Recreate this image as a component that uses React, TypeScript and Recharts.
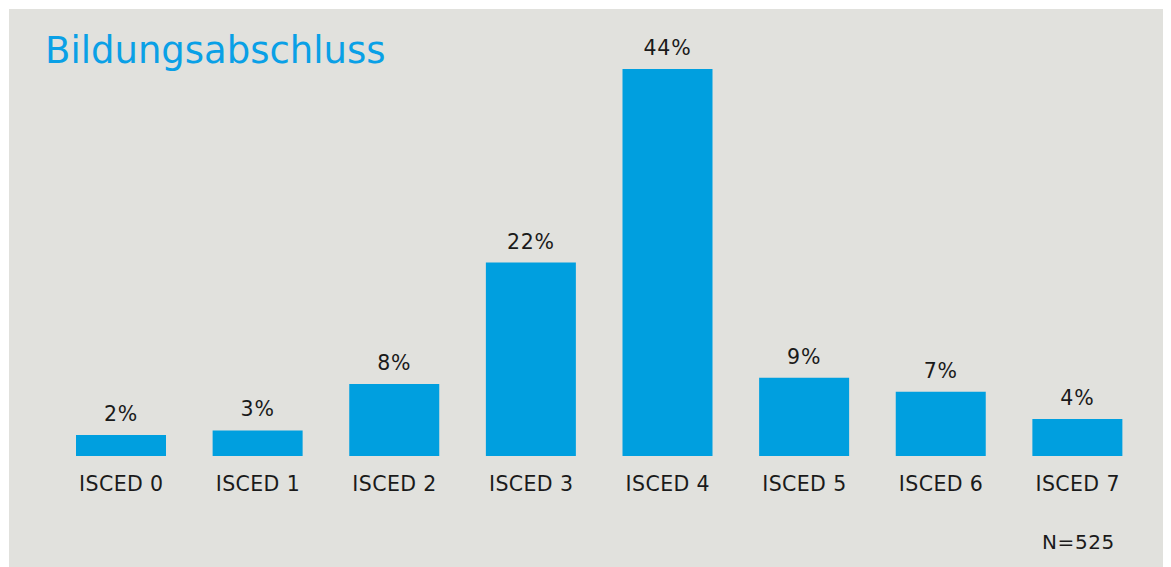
import { BarChart, Bar, XAxis, YAxis, LabelList } from "recharts";

const categories = [
  "ISCED 0",
  "ISCED 1",
  "ISCED 2",
  "ISCED 3",
  "ISCED 4",
  "ISCED 5",
  "ISCED 6",
  "ISCED 7",
];
const shares = [2.4, 2.9, 8.2, 22, 44, 8.9, 7.3, 4.2];
const shareLabels = ["2%", "3%", "8%", "22%", "44%", "9%", "7%", "4%"];

const data = categories.map((name, i) => ({
  name,
  value: shares[i],
  label: shareLabels[i],
}));

const FONT = "'DejaVu Sans', Verdana, sans-serif";

export default function App() {
  return (
    <div
      style={{
        position: "relative",
        marginLeft: 1,
        marginTop: 1,
        width: 1162,
        height: 558,
        background: "#e1e1dd",
        fontFamily: FONT,
      }}
    >
      <BarChart
        width={1162}
        height={558}
        data={data}
        margin={{ top: 60, right: 25, left: 44, bottom: 51 }}
      >
        <XAxis
          dataKey="name"
          axisLine={false}
          tickLine={false}
          tickSize={0}
          tickMargin={20}
          height={60}
          interval={0}
          tick={{
            fill: "#1a1a1a",
            fontSize: 20.5,
            fontFamily: FONT,
            letterSpacing: 0.4,
          }}
        />
        <YAxis hide domain={[0, 44]} />
        <Bar
          dataKey="value"
          fill="#009fdf"
          barSize={90}
          isAnimationActive={false}
        >
          <LabelList
            dataKey="label"
            position="top"
            offset={14}
            fill="#1a1a1a"
            fontSize={20.5}
            fontFamily={FONT}
            style={{ letterSpacing: 0.8 }}
          />
        </Bar>
      </BarChart>
      <svg
        width={1162}
        height={558}
        style={{ position: "absolute", left: 0, top: 0, pointerEvents: "none" }}
      >
        <text x={36} y={54} fill="#0aa0e6" fontSize={37} fontFamily={FONT}>
          Bildungsabschluss
        </text>
        <text
          x={1033}
          y={540}
          fill="#1a1a1a"
          fontSize={20}
          fontFamily={FONT}
          letterSpacing={0.6}
        >
          N=525
        </text>
      </svg>
    </div>
  );
}
